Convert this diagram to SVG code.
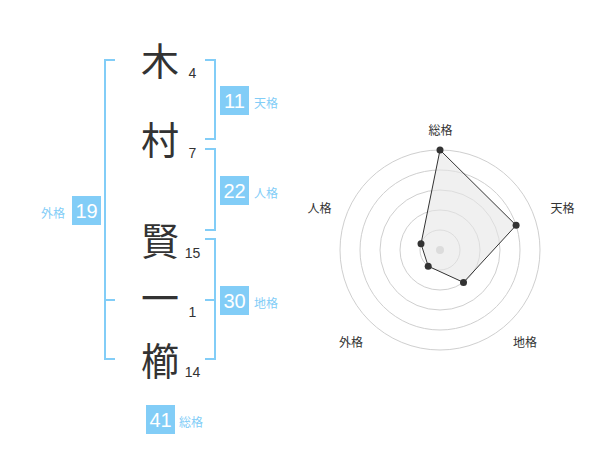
<svg xmlns="http://www.w3.org/2000/svg" width="600" height="470" viewBox="0 0 600 470">
<style>
.kanji{font-family:"Noto Sans CJK JP","Noto Sans CJK SC",sans-serif;font-size:38px;fill:#333;text-anchor:middle}
.num{font-family:"Liberation Sans",Arial,sans-serif;font-size:14px;fill:#333;text-anchor:middle}
.br{fill:none;stroke:#82cdf7;stroke-width:2}
.box{fill:#82cdf7}
.bn{font-family:"Liberation Sans",Arial,sans-serif;font-size:20px;fill:#fff;text-anchor:middle}
.lb{font-family:"Noto Sans CJK JP","Noto Sans CJK SC",sans-serif;font-size:12px;fill:#82cdf7}
.rl{font-family:"Noto Sans CJK JP","Noto Sans CJK SC",sans-serif;font-size:12px;fill:#333;text-anchor:middle}
.ring{fill:none;stroke:#cfcfcf;stroke-width:1}
.pt{fill:#333}
</style>
<rect width="600" height="470" fill="#fff"/>
<g id="name">
<g id="c1"><text class="kanji" x="160" y="75">木</text><text class="num" x="192.5" y="78">4</text></g>
<g id="c2"><text class="kanji" x="160" y="154">村</text><text class="num" x="192.5" y="158">7</text></g>
<g id="c3"><text class="kanji" x="160" y="254.5">賢</text><text class="num" x="192.5" y="258">15</text></g>
<g id="c4"><text class="kanji" x="160" y="312">一</text><text class="num" x="192.5" y="317">1</text></g>
<g id="c5"><text class="kanji" x="160" y="374.5">櫛</text><text class="num" x="192.5" y="377">14</text></g>
</g>
<g id="connectors">
<path class="br" d="M115,60 H105 V359 H115 M105,300 H115"/>
<path class="br" d="M205,60 H215 V139 H205"/>
<path class="br" d="M205,149 H215 V230 H205"/>
<path class="br" d="M205,239 H215 V359 H205 M205,300 H215"/>
</g>
<g id="gaikaku"><rect class="box" x="72" y="196" width="29" height="29"/><text class="bn" x="86.5" y="217.5">19</text><text class="lb" x="65" y="218" text-anchor="end">外格</text></g>
<g id="tenkaku"><rect class="box" x="220" y="86" width="29" height="29"/><text class="bn" x="234.5" y="107.5">11</text><text class="lb" x="254" y="108">天格</text></g>
<g id="jinkaku"><rect class="box" x="220" y="176" width="29" height="29"/><text class="bn" x="234.5" y="197.5">22</text><text class="lb" x="254" y="198">人格</text></g>
<g id="chikaku"><rect class="box" x="220" y="286" width="29" height="29"/><text class="bn" x="234.5" y="307.5">30</text><text class="lb" x="254" y="308">地格</text></g>
<g id="soukaku"><rect class="box" x="146" y="405" width="29" height="29"/><text class="bn" x="160.5" y="426.5">41</text><text class="lb" x="179" y="427">総格</text></g>
<g id="radar">
<circle class="ring" cx="440" cy="250" r="20"/>
<circle class="ring" cx="440" cy="250" r="40"/>
<circle class="ring" cx="440" cy="250" r="60"/>
<circle class="ring" cx="440" cy="250" r="80"/>
<circle class="ring" cx="440" cy="250" r="100"/>
<circle cx="440" cy="250" r="4" fill="#cccccc"/>
<polygon points="440,150 516.1,225.3 463.5,282.4 428.2,266.2 421,243.8" fill="#e6e6e6" fill-opacity="0.6" stroke="#333" stroke-width="1"/>
<circle class="pt" cx="440" cy="150" r="3.5"/>
<circle class="pt" cx="516.1" cy="225.3" r="3.5"/>
<circle class="pt" cx="463.5" cy="282.4" r="3.5"/>
<circle class="pt" cx="428.2" cy="266.2" r="3.5"/>
<circle class="pt" cx="421" cy="243.8" r="3.5"/>
<text class="rl" x="440.5" y="135">総格</text>
<text class="rl" x="562.5" y="213">天格</text>
<text class="rl" x="525" y="347">地格</text>
<text class="rl" x="351" y="347">外格</text>
<text class="rl" x="319.5" y="213">人格</text>
</g>
</svg>
